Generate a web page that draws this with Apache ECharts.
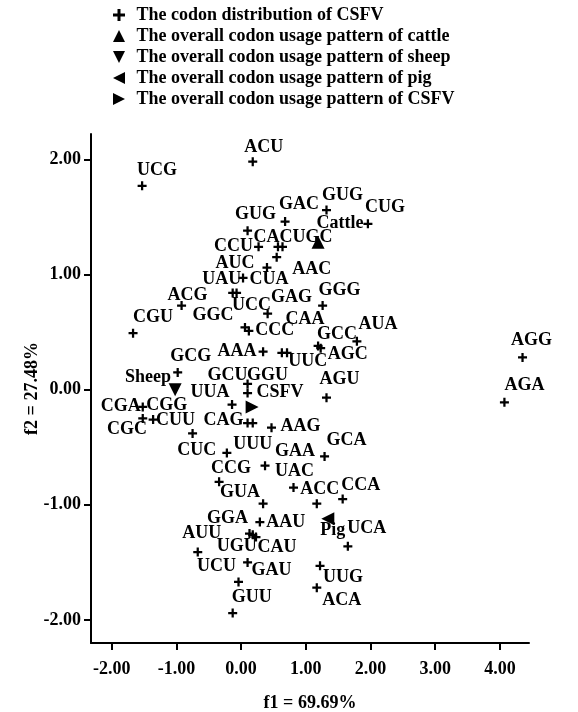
<!DOCTYPE html>
<html>
<head>
<meta charset="utf-8">
<script src="https://cdn.jsdelivr.net/npm/echarts@6/dist/echarts.min.js"></script>
<style>
html, body {margin: 0; padding: 0; background: #fff;}
#chart {width: 578px; height: 712px;}
</style>
</head>
<body>
<div id="chart"></div>
<script>
// codon positions on the two correspondence axes
const codons = ['ACU','UCG','GUG','GAC','CUG','GUG','CAC','UGC','CCU','AAC','AUC','CUA','UAU','UCC','ACG','CGU','GAG','GGG','GGC','CCC','CAA','UUC','AGC','GCC','AUA','AAA','GCG','GCU','GGU','AGU','UUA','CGA','CGG','CGC','CUU','CUC','CAG','UUU','AAG','GAA','GCA','CCG','UAC','GUA','ACC','CCA','AAU','GGA','UGU','CAU','AUU','UCU','GAU','GUU','UUG','ACA','UCA','AGG','AGA'];
const f1 = [0.18,-1.53,1.32,0.68,1.96,0.10,0.57,0.64,0.27,0.55,0.40,0.03,-0.13,-0.07,-0.92,-1.67,0.41,1.26,0.06,0.12,0.71,0.63,1.23,1.19,1.79,0.34,-0.98,0.10,0.10,1.32,-0.14,-1.52,-1.52,-1.36,-0.75,-0.22,0.10,0.18,0.47,0.37,1.29,-0.34,0.81,0.34,1.17,1.57,0.29,0.13,0.18,0.23,-0.67,-0.04,0.10,-0.13,1.22,1.17,1.65,4.35,4.07];
const f2 = [1.98,1.77,1.56,1.46,1.44,1.38,1.24,1.24,1.24,1.15,1.06,0.97,0.84,0.84,0.73,0.49,0.66,0.73,0.54,0.51,0.32,0.32,0.36,0.38,0.42,0.33,0.15,0.05,-0.03,-0.07,-0.13,-0.15,-0.25,-0.26,-0.38,-0.55,-0.29,-0.29,-0.33,-0.66,-0.58,-0.80,-0.85,-0.99,-0.99,-0.95,-1.15,-1.25,-1.26,-1.28,-1.41,-1.67,-1.50,-1.94,-1.53,-1.72,-1.36,0.28,-0.11];

// overall usage patterns
const hostNames = ['Cattle', 'Sheep', 'Pig', 'CSFV'];
const hostF1 = [1.19, -1.02, 1.34, 0.17];
const hostF2 = [1.28, 0.00, -1.12, -0.15];

const legendNames = [
    'The codon distribution of CSFV',
    'The overall codon usage pattern of cattle',
    'The overall codon usage pattern of sheep',
    'The overall codon usage pattern of pig',
    'The overall codon usage pattern of CSFV'
];
const xTicks = [-2, -1, 0, 1, 2, 3, 4];
const yTicks = [-2, -1, 0, 1, 2];

// where each label sits relative to its mark (px)
const labelOffsets = [[11,-14],[15,-15],[16,-15],[14,-17],[17,-16],[8,-16],[-5,-10],[30,-10],[-25,-1],[35,12],[-32,-4],[26,1],[-11,-14],[15,12],[6,-10],[20,-16],[24,-16],[17,-15],[-32,-12],[26,-1],[18,-33],[26,9],[27,6],[19,-12],[21,-17],[-26,0],[13,-16],[-20,-9],[20,-18],[13,-18],[-22,-12],[-22,-1],[24,-13],[-26,10],[-17,-13],[-30,-3],[-24,-3],[0,21],[29,-1],[30,-14],[22,-16],[12,-13],[1,-16],[-23,-11],[3,-14],[18,-14],[26,0],[-22,-15],[-16,12],[21,10],[4,-19],[-22,-16],[24,8],[19,-16],[23,11],[25,13],[19,-18],[9,-17],[20,-17]];
const hostOffsets = [[22,-19], [-27,-12], [5,12], [28,-15]];

const font = '"Liberation Serif", "DejaVu Serif", serif';
const symbols = [
    'path://M3.75,0h2.5v3.75h3.75v2.5h-3.75v3.75h-2.5v-3.75h-3.75v-2.5h3.75z',
    'path://M5,0L10,10L0,10Z',
    'path://M0,0L10,0L5,10Z',
    'path://M10,0L10,10L0,5Z',
    'path://M0,0L10,5L0,10Z'
];

var chartDom = document.getElementById('chart');
var chart = echarts.init(chartDom);

var labelBase = {
    show: true,
    position: 'inside',
    formatter: '{b}',
    color: '#000',
    opacity: 1,
    fontFamily: font,
    fontWeight: 'bold',
    fontSize: 18,
    textBorderWidth: 0
};

let codonData = codons.map((c, i) => ({
    name: c,
    value: [f1[i], f2[i]],
    label: {offset: labelOffsets[i]}
}));

let series = [{
    name: legendNames[0],
    type: 'scatter',
    symbol: symbols[0],
    symbolSize: 9,
    itemStyle: {color: '#000', opacity: 1},
    label: labelBase,
    data: codonData
}];

hostNames.forEach((h, i) => {
    series.push({
        name: legendNames[i + 1],
        type: 'scatter',
        symbol: symbols[i + 1],
        symbolSize: 13,
        itemStyle: {color: '#000', opacity: 1},
        label: labelBase,
        data: [{name: h, value: [hostF1[i], hostF2[i]], label: {offset: hostOffsets[i]}}]
    });
});

let option = {
    animation: false,
    backgroundColor: '#fff',
    legend: {
        data: legendNames,
        orient: 'vertical',
        left: 108,
        top: 1,
        itemWidth: 13,
        itemHeight: 12,
        itemGap: 3,
        textStyle: {
            color: '#000',
            fontFamily: font,
            fontWeight: 'bold',
            fontSize: 18,
            lineHeight: 18,
            padding: [0, 0, 0, 6]
        }
    },
    grid: {
        left: 91,
        right: 49,
        top: 134,
        bottom: 69,
        outerBoundsMode: 'none'
    },
    xAxis: {
        type: 'value',
        min: -2.32,
        max: 4.45,
        name: 'f1 = 69.69%',
        nameLocation: 'middle',
        nameGap: 51,
        nameTextStyle: {color: '#000', fontFamily: font, fontWeight: 'bold', fontSize: 18},
        splitLine: {show: false},
        axisLine: {onZero: false, lineStyle: {color: '#000', width: 2}},
        axisTick: {length: 7, lineStyle: {width: 2}, customValues: xTicks},
        axisLabel: {
            customValues: xTicks,
            margin: 17,
            color: '#000',
            fontFamily: font,
            fontWeight: 'bold',
            fontSize: 18,
            formatter: (v) => v.toFixed(2)
        }
    },
    yAxis: {
        type: 'value',
        min: -2.2,
        max: 2.22,
        name: 'f2 = 27.48%',
        nameLocation: 'middle',
        nameRotate: 90,
        nameGap: 50,
        nameMoveOverlap: false,
        nameTextStyle: {color: '#000', fontFamily: font, fontWeight: 'bold', fontSize: 18},
        splitLine: {show: false},
        axisLine: {onZero: false, lineStyle: {color: '#000', width: 2}},
        axisTick: {length: 7, lineStyle: {width: 2}, customValues: yTicks},
        axisLabel: {
            customValues: yTicks,
            margin: 10,
            color: '#000',
            fontFamily: font,
            fontWeight: 'bold',
            fontSize: 18,
            formatter: (v) => v.toFixed(2)
        }
    },
    series: series
};

chart.setOption(option);
</script>
</body>
</html>
